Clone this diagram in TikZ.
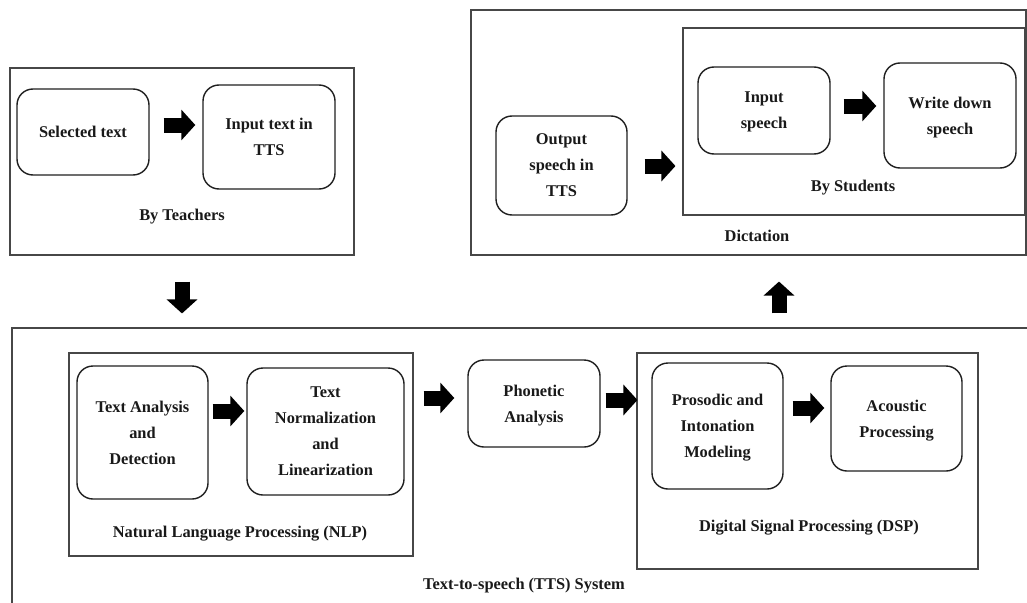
\documentclass[tikz,border=0pt]{standalone}
\usepackage{fontspec}
\setmainfont{Liberation Serif}
\usetikzlibrary{arrows.meta}
\newcommand\dfont{\fontsize{16.4}{26}\selectfont\bfseries}
\begin{document}
\begin{tikzpicture}[x=1pt,y=-1pt,
  rbox/.style={draw=black!88, line width=1.4pt, rounded corners=16pt, align=center, font=\dfont, inner sep=0pt, text=black!90, text depth=0pt},
  cont/.style={draw=black!72, line width=1.1pt, inner sep=0pt},
  lbl/.style={font=\dfont, inner sep=0pt, text=black!90, text depth=0pt},
  blk/.style={line width=15pt, black, -{Triangle[length=14pt,width=30pt]}}]
\fill[white] (0,0) rectangle (1027,602);
\useasboundingbox (0,0) rectangle (1027,602);

% ---------- By Teachers ----------
\node[cont, minimum width=344pt, minimum height=187pt] (teach) at (182,161.5) {};
\node[rbox, minimum width=132pt, minimum height=86pt] (sel) at (83,132) {Selected text};
\node[rbox, minimum width=132pt, minimum height=104pt] (inp) at (269,137) {Input text in\\TTS};
\node[lbl] (teachlbl) at (182,215) {By Teachers};
\coordinate (y1) at (0,125);
\draw[blk, shorten <=14pt, shorten >=7pt] (sel.east |- y1) -- (inp.west |- y1);

% ---------- Dictation ----------
\node[cont, minimum width=555pt, minimum height=245pt] (dict) at (748.5,132.5) {};
\node[cont, minimum width=342pt, minimum height=187pt] (stud) at (854,121.5) {};
\node[rbox, minimum width=131pt, minimum height=99pt] (out) at (561.5,165.5) {Output\\speech in\\TTS};
\node[rbox, minimum width=132pt, minimum height=87pt] (insp) at (764,110.5) {Input\\speech};
\node[rbox, minimum width=132pt, minimum height=105pt] (wd) at (950,115.5) {Write down\\speech};
\node[lbl] (dictlbl) at (757,236) {Dictation};
\node[lbl] (studlbl) at (853,186) {By Students};
\coordinate (y2) at (0,166);
\coordinate (y3) at (0,106);
\draw[blk, shorten <=17pt, shorten >=7pt] (out.east |- y2) -- (stud.west |- y2);
\draw[blk, shorten <=13pt, shorten >=7pt] (insp.east |- y3) -- (wd.west |- y3);

% ---------- TTS System ----------
\node[cont, minimum width=1028pt, minimum height=287pt] (tts) at (526,471.5) {};
\node[cont, minimum width=344pt, minimum height=203pt] (nlp) at (241,454.5) {};
\node[rbox, minimum width=131pt, minimum height=133pt] (ta) at (142.5,432.5) {Text Analysis\\and\\Detection};
\node[rbox, minimum width=157pt, minimum height=127pt] (tn) at (325.5,431.5) {Text\\Normalization\\and\\Linearization};
\node[lbl] (nlplbl) at (240,532) {Natural Language Processing (NLP)};
\node[rbox, minimum width=132pt, minimum height=87pt] (ph) at (534,403.5) {Phonetic\\Analysis};
\node[cont, minimum width=341pt, minimum height=216pt] (dsp) at (807.5,461) {};
\node[rbox, minimum width=131pt, minimum height=126pt] (pr) at (717.5,426) {Prosodic and\\Intonation\\Modeling};
\node[rbox, minimum width=131pt, minimum height=105pt] (ac) at (896.5,418.5) {Acoustic\\Processing};
\node[lbl] (dsplbl) at (809,526) {Digital Signal Processing (DSP)};
\node[lbl] (ttslbl) at (524,584) {Text-to-speech (TTS) System};
\coordinate (y4) at (0,411);
\coordinate (y5) at (0,398);
\coordinate (y6) at (0,400);
\coordinate (y7) at (0,408);
\draw[blk, shorten <=4pt, shorten >=2pt] (ta.east |- y4) -- (tn.west |- y4);
\draw[blk, shorten <=10pt, shorten >=13pt] (nlp.east |- y5) -- (ph.west |- y5);
\draw[blk, shorten <=5pt, shorten >=-1pt] (ph.east |- y6) -- (dsp.west |- y6);
\draw[blk, shorten <=9pt, shorten >=6pt] (pr.east |- y7) -- (ac.west |- y7);

% ---------- between groups ----------
\coordinate (xup) at (779,0);
\draw[blk, shorten <=26pt, shorten >=14pt] (teach.south) -- (teach.south |- tts.north);
\draw[blk, shorten <=14pt, shorten >=26pt] (xup |- tts.north) -- (xup |- dict.south);
\end{tikzpicture}
\end{document}
